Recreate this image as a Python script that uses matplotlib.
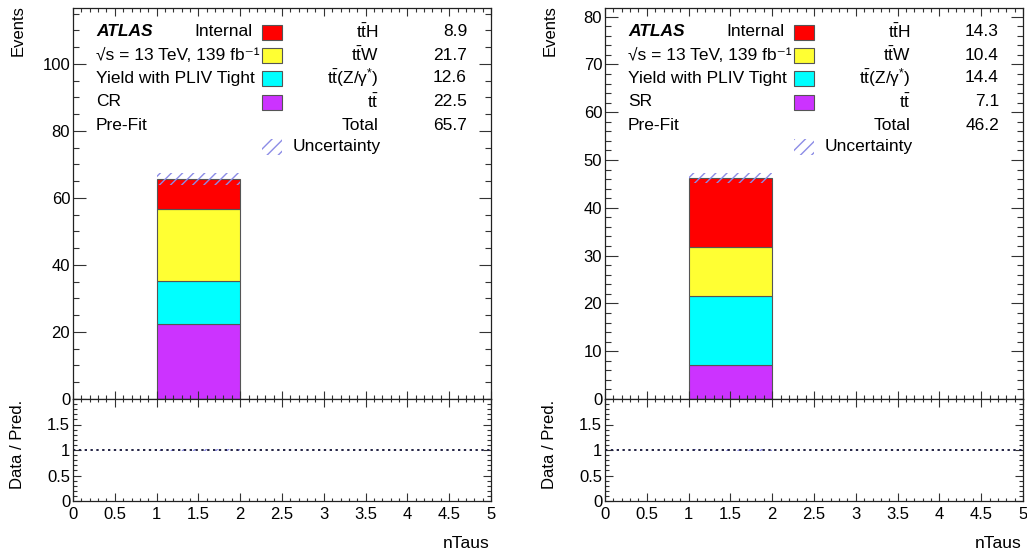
import numpy as np
import matplotlib
matplotlib.use('Agg')
import matplotlib.pyplot as plt
from matplotlib.patches import Rectangle
from matplotlib.ticker import MultipleLocator

plt.rcParams['font.family'] = ['Liberation Sans', 'DejaVu Sans']
plt.rcParams['mathtext.fontset'] = 'custom'
plt.rcParams['mathtext.rm'] = 'Liberation Sans'
plt.rcParams['mathtext.it'] = 'Liberation Sans:italic'
plt.rcParams['mathtext.bf'] = 'Liberation Sans:bold'
plt.rcParams['hatch.linewidth'] = 1.0

# histogram binning (nTaus), only the bin [1, 2] is filled
bin_edges = [0, 1, 2, 3, 4, 5]
filled_bin = 1

# samples, top of legend first
samples = [r'$\mathrm{t\bar{t}H}$', r'$\mathrm{t\bar{t}W}$',
           r'$\mathrm{t\bar{t}(Z/\gamma^{*})}$', r'$\mathrm{t\bar{t}}$']
colors = ['#ff0000', '#ffff33', '#00ffff', '#cc33ff']

cr_yields = [8.9, 21.7, 12.6, 22.5]
sr_yields = [14.3, 10.4, 14.4, 7.1]
cr_total = 65.7
sr_total = 46.2
cr_unc = 1.8
sr_unc = 1.0

panels = [
    dict(region='CR', yields=cr_yields, total=cr_total, unc=cr_unc,
         ymax=116.7, major=20, minor=5, left=73),
    dict(region='SR', yields=sr_yields, total=sr_total, unc=sr_unc,
         ymax=81.8, major=10, minor=2, left=605),
]

W, H = 1027, 555
fig = plt.figure(figsize=(W / 100, H / 100), dpi=100)


def fx(px):
    return px / W


def fy(py):
    return 1 - py / H


def style_axis(ax, ymaj, ymin, ylen, xlen):
    ax.xaxis.set_major_locator(MultipleLocator(0.5))
    ax.xaxis.set_minor_locator(MultipleLocator(0.1))
    ax.yaxis.set_major_locator(MultipleLocator(ymaj))
    ax.yaxis.set_minor_locator(MultipleLocator(ymin))
    ax.tick_params(which='both', direction='in', top=True, right=True,
                   labelsize=12, pad=2, width=0.8, color='#333333')
    ax.tick_params(axis='y', which='major', length=ylen[0])
    ax.tick_params(axis='y', which='minor', length=ylen[1])
    ax.tick_params(axis='x', which='major', length=xlen[0])
    ax.tick_params(axis='x', which='minor', length=xlen[1])
    for s in ax.spines.values():
        s.set_linewidth(0.9)
        s.set_color('#222222')


for p in panels:
    L = p['left']
    w = 418
    ax = fig.add_axes([fx(L), fy(399), fx(w), fy(8) - fy(399)])
    rax = fig.add_axes([fx(L), fy(501), fx(w), fy(399) - fy(501)])

    # stacked histogram, bottom sample first
    x0 = bin_edges[filled_bin]
    bw = bin_edges[filled_bin + 1] - x0
    bottom = 0.0
    for val, col in zip(p['yields'][::-1], colors[::-1]):
        ax.bar(x0, val, bottom=bottom, width=bw, align='edge', color=col,
               edgecolor='#555555', linewidth=0.8)
        bottom += val
    ax.bar(x0, 2 * p['unc'], bottom=p['total'] - p['unc'], width=bw,
           align='edge', fill=False, hatch='///', edgecolor='#8c8ce6',
           linewidth=0)

    ax.set_xlim(bin_edges[0], bin_edges[-1])
    ax.set_ylim(0, p['ymax'])
    ax.tick_params(labelbottom=False)
    style_axis(ax, p['major'], p['minor'], (9, 4.5), (6, 3))

    # ratio panel
    rel = p['unc'] / p['total']
    rax.bar(x0, 2 * rel, bottom=1 - rel, width=bw, align='edge', fill=False,
            hatch='///', edgecolor='#8c8ce6', linewidth=0)
    rax.axhline(1, color='#222244', linestyle=(0, (1.2, 1.8)), linewidth=1.4)
    rax.set_xlim(bin_edges[0], bin_edges[-1])
    rax.set_ylim(0, 2)
    style_axis(rax, 0.5, 0.1, (5.5, 3), (5.5, 2.5))
    rax.set_yticks([0, 0.5, 1, 1.5])
    rax.set_yticklabels(['0', '0.5', '1', '1.5'])
    rax.set_xticks(np.arange(0, 5.01, 0.5))
    rax.set_xticklabels(['0', '0.5', '1', '1.5', '2', '2.5', '3', '3.5',
                         '4', '4.5', '5'])
    rax.tick_params(axis='x', pad=4)

    # axis titles
    fig.text(fx(L - 55), fy(5), 'Events', rotation=90, ha='center', va='top',
             fontsize=12)
    fig.text(fx(L - 55), fy(444), 'Data / Pred.', rotation=90, ha='center',
             va='center', fontsize=12)
    fig.text(fx(L + w - 1), fy(543), 'nTaus', ha='right', va='center',
             fontsize=12.5)

    # legend block
    fs = 12.5
    rows = [32, 55, 78, 102, 125, 147]
    fig.text(fx(L + 23), fy(rows[0]), 'ATLAS', fontsize=fs, weight='bold',
             style='italic', va='center')
    fig.text(fx(L + 121), fy(rows[0]), 'Internal', fontsize=fs, va='center')
    fig.text(fx(L + 23), fy(rows[1]), '\u221as = 13 TeV, 139 fb\u207b\u00b9',
             fontsize=fs, va='center')
    fig.text(fx(L + 23), fy(rows[2]), 'Yield with PLIV Tight', fontsize=fs,
             va='center')
    fig.text(fx(L + 23), fy(rows[3]), p['region'], fontsize=fs, va='center')
    fig.text(fx(L + 23), fy(rows[4]), 'Pre-Fit', fontsize=fs, va='center')

    for i, (name, col, val) in enumerate(zip(samples, colors, p['yields'])):
        yc = rows[i]
        fig.add_artist(Rectangle((fx(L + 189), fy(yc + 7.5)), fx(20), fy(yc - 7.5) - fy(yc + 7.5),
                                 transform=fig.transFigure, facecolor=col,
                                 edgecolor='#555555', linewidth=0.8))
        fig.text(fx(L + 306), fy(yc), name, fontsize=fs, ha='right', va='center')
        fig.text(fx(L + 394), fy(yc), f'{val:.1f}', fontsize=fs, ha='right',
                 va='center')
    fig.text(fx(L + 306), fy(rows[4]), 'Total', fontsize=fs, ha='right',
             va='center')
    fig.text(fx(L + 394), fy(rows[4]), f"{p['total']:.1f}", fontsize=fs,
             ha='right', va='center')
    yc = rows[5]
    fig.add_artist(Rectangle((fx(L + 189), fy(yc + 7.5)), fx(20), fy(yc - 7.5) - fy(yc + 7.5),
                             transform=fig.transFigure, fill=False, hatch='///',
                             edgecolor='#8c8ce6', linewidth=0))
    fig.text(fx(L + 220), fy(yc), 'Uncertainty', fontsize=fs, va='center')

fig.savefig('out.png', dpi=100)
